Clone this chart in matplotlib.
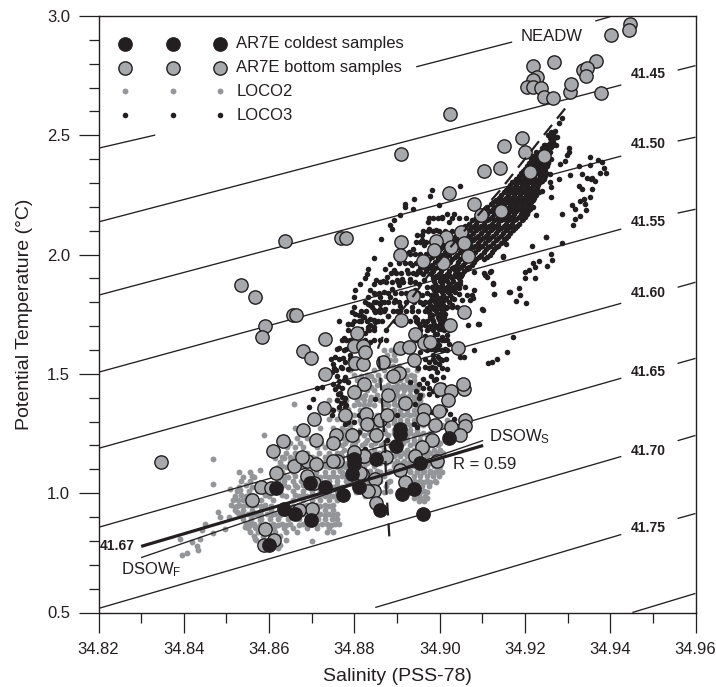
import matplotlib
matplotlib.use('Agg')
from matplotlib import pyplot as plt
from matplotlib.ticker import MultipleLocator, FormatStrFormatter

plt.rcParams['font.family'] = ['Liberation Sans', 'DejaVu Sans']
plt.rcParams['mathtext.default'] = 'regular'

dark = '#231f20'
gray_face = '#a7a9ac'
gray_dot = '#939598'

# isopycnal segments (salinity, theta), gaps are where the labels sit
iso_segments = [
    [(34.82, 2.446), (34.8333, 2.501)],
    [(34.8945, 2.787), (34.9170, 2.891)],
    [(34.9365, 2.979), (34.9400, 2.997)],
    [(34.82, 2.137), (34.9426, 2.711)],
    [(34.9558, 2.773), (34.96, 2.792)],
    [(34.82, 1.830), (34.9426, 2.413)],
    [(34.9558, 2.476), (34.96, 2.492)],
    [(34.82, 1.507), (34.9426, 2.107)],
    [(34.9558, 2.174), (34.96, 2.190)],
    [(34.82, 1.188), (34.9426, 1.796)],
    [(34.9558, 1.863), (34.96, 1.884)],
    [(34.82, 0.857), (34.9426, 1.482)],
    [(34.9558, 1.544), (34.96, 1.565)],
    [(34.82, 0.517), (34.9426, 1.154)],
    [(34.9558, 1.220), (34.96, 1.242)],
    [(34.8849, 0.521), (34.9426, 0.827)],
    [(34.9558, 0.894), (34.96, 0.915)],
    [(34.9452, 0.50), (34.96, 0.580)],
]
iso_labels = ['41.45', '41.50', '41.55', '41.60', '41.65', '41.70', '41.75']
iso_label_t = [2.757, 2.463, 2.137, 1.838, 1.507, 1.175, 0.856]

# dashed mean T-S curve
mean_s = [34.8882, 34.8875, 34.8872, 34.8863, 34.8856, 34.8872, 34.8936, 34.8994, 34.9053, 34.9142, 34.9231, 34.9295]
mean_t = [0.819, 1.016, 1.192, 1.431, 1.611, 1.679, 1.821, 1.964, 2.090, 2.270, 2.471, 2.614]

# mixing lines
thick_s = [34.8300, 34.9102]
thick_t = [0.777, 1.200]
thin_s = [34.8300, 34.9102]
thin_t = [0.730, 1.221]

coldest = [
    (34.8616, 1.023), (34.8695, 1.042), (34.8730, 1.025), (34.8773, 0.991), (34.8812, 1.025),
    (34.8794, 1.082), (34.8800, 1.145), (34.8800, 1.121), (34.8851, 1.142), (34.8898, 1.197),
    (34.8908, 1.270), (34.8908, 1.249), (34.8912, 0.998), (34.8861, 0.931), (34.8636, 0.932),
    (34.8660, 0.911), (34.8699, 0.886), (34.8600, 0.781), (34.8939, 1.016), (34.8960, 0.911),
    (34.8953, 1.128), (34.9023, 1.233),
]

bottom = [
    (34.9446, 2.966), (34.9443, 2.941), (34.9403, 2.919), (34.9219, 2.792), (34.9269, 2.807),
    (34.9367, 2.810), (34.9337, 2.773), (34.9346, 2.782), (34.9344, 2.748), (34.9229, 2.745),
    (34.9219, 2.730), (34.9205, 2.701), (34.9220, 2.703), (34.9238, 2.698), (34.9245, 2.662),
    (34.9267, 2.655), (34.9305, 2.682), (34.9307, 2.714), (34.9379, 2.678), (34.9025, 2.588),
    (34.8909, 2.421), (34.9193, 2.490), (34.9150, 2.455), (34.9199, 2.428), (34.9244, 2.414),
    (34.9103, 2.350), (34.9142, 2.361), (34.9213, 2.346), (34.9021, 2.260), (34.9081, 2.214),
    (34.9097, 2.165), (34.9145, 2.183), (34.9050, 2.093), (34.9015, 2.074), (34.8991, 2.056),
    (34.9058, 2.047), (34.8986, 2.021), (34.9027, 2.030), (34.9067, 1.996), (34.8961, 1.973),
    (34.9008, 1.965), (34.8937, 1.827), (34.8909, 2.053), (34.8908, 1.998), (34.8638, 2.057),
    (34.8769, 2.069), (34.8780, 2.069), (34.8534, 1.874), (34.8566, 1.822), (34.8655, 1.746),
    (34.8663, 1.746), (34.8591, 1.700), (34.8584, 1.655), (34.8730, 1.645), (34.8679, 1.595),
    (34.8699, 1.567), (34.8807, 1.671), (34.8798, 1.617), (34.8820, 1.617), (34.8802, 1.546),
    (34.8820, 1.543), (34.8826, 1.592), (34.8868, 1.550), (34.8730, 1.501), (34.8823, 1.459),
    (34.8798, 1.424), (34.8729, 1.357), (34.8779, 1.329), (34.8706, 1.309), (34.8679, 1.263),
    (34.8632, 1.218), (34.8610, 1.176), (34.8710, 1.221), (34.8757, 1.242), (34.8751, 1.210),
    (34.8794, 1.242), (34.8828, 1.333), (34.8829, 1.288), (34.8851, 1.242), (34.8880, 1.410),
    (34.8861, 1.305), (34.8876, 1.326), (34.8904, 1.504), (34.8891, 1.490), (34.8918, 1.378),
    (34.8908, 1.608), (34.8929, 1.613), (34.8909, 1.725), (34.8943, 1.666), (34.8964, 1.631),
    (34.8978, 1.632), (34.9056, 1.760), (34.9025, 1.704), (34.9042, 1.610), (34.8939, 1.557),
    (34.9002, 1.438), (34.9027, 1.428), (34.9056, 1.438), (34.9055, 1.459), (34.9020, 1.389),
    (34.8998, 1.344), (34.8964, 1.350), (34.8961, 1.309), (34.8990, 1.284), (34.9027, 1.277),
    (34.9060, 1.305), (34.9060, 1.280), (34.9047, 1.242), (34.8982, 1.221), (34.8959, 1.193),
    (34.8943, 1.158), (34.8994, 1.137), (34.8908, 1.098), (34.8919, 1.049), (34.8875, 1.151),
    (34.8849, 1.061), (34.8847, 1.009), (34.8851, 0.960), (34.8833, 1.009), (34.8821, 1.158),
    (34.8798, 1.151), (34.8759, 1.137), (34.8751, 1.137), (34.8689, 1.133), (34.8700, 0.932),
    (34.8818, 1.082), (34.8346, 1.132), (34.8617, 1.086), (34.8581, 1.028), (34.8605, 1.023),
    (34.8560, 0.973), (34.8659, 1.113), (34.8678, 1.151), (34.8710, 1.124), (34.8689, 1.072),
    (34.8706, 1.044), (34.8671, 0.931), (34.8591, 0.851), (34.8612, 0.802), (34.8587, 0.784),
    (34.8814, 1.086), (34.8823, 1.154), (34.8798, 1.172),
]

# LOCO3 scattered points
loco3_points = [
    (34.9353, 2.41), (34.9371, 2.396), (34.9381, 2.389), (34.9385, 2.361), (34.9377, 2.34), (34.9389, 2.343),
    (34.9353, 2.375), (34.9326, 2.371), (34.9334, 2.337), (34.9346, 2.323), (34.9357, 2.323), (34.9364, 2.309),
    (34.9355, 2.315), (34.9326, 2.287), (34.9334, 2.273), (34.9357, 2.277), (34.9352, 2.242), (34.9338, 2.235),
    (34.9328, 2.225), (34.9342, 2.214), (34.9344, 2.189), (34.9311, 2.207), (34.9317, 2.19), (34.9328, 2.161),
    (34.9318, 2.151), (34.9312, 2.126), (34.9303, 2.445), (34.9303, 2.43), (34.9299, 2.417), (34.9293, 2.393),
    (34.9282, 2.379), (34.9305, 2.333), (34.9279, 2.315), (34.926, 2.284), (34.9258, 2.305), (34.926, 2.242),
    (34.9287, 2.172), (34.9227, 2.165), (34.925, 2.074), (34.9258, 2.337), (34.924, 2.266), (34.9196, 2.175),
    (34.9173, 2.153), (34.9288, 2.049), (34.925, 2.072), (34.9217, 2.036), (34.9261, 2.004), (34.9264, 1.979),
    (34.9252, 1.952), (34.9232, 1.973), (34.922, 1.963), (34.9224, 1.948), (34.9201, 1.927), (34.9209, 1.934),
    (34.9199, 1.904), (34.9223, 1.904), (34.9185, 1.862), (34.9164, 1.843), (34.9189, 1.83), (34.9127, 1.834),
    (34.9125, 1.879), (34.9148, 1.99), (34.9117, 1.927), (34.9107, 1.913), (34.9079, 1.817), (34.9173, 1.655),
    (34.9158, 1.592), (34.9135, 1.564), (34.9123, 1.55), (34.9113, 1.547), (34.9081, 1.599), (34.9058, 1.571),
    (34.9203, 1.797), (34.9178, 1.804), (34.9099, 1.77), (34.909, 1.711), (34.9066, 1.704),
    (34.9047, 2.287), (34.8982, 2.27), (34.8978, 2.245), (34.8941, 2.231), (34.8919, 2.211), (34.8919, 2.2),
    (34.8937, 2.19), (34.8998, 2.207), (34.8908, 2.165), (34.8894, 2.147), (34.8884, 2.123), (34.8888, 2.109),
    (34.8863, 2.064), (34.8972, 2.137), (34.8947, 2.084), (34.8959, 2.081), (34.8959, 2.06), (34.8974, 2.109),
    (34.8992, 2.102), (34.8963, 2.039), (34.9006, 2.158), (34.9017, 2.172), (34.9033, 2.172), (34.9021, 2.137),
    (34.8937, 2.025), (34.8927, 2.011), (34.8916, 2.004), (34.8845, 1.987), (34.8884, 1.962), (34.8873, 1.941),
    (34.8831, 1.941), (34.883, 1.92), (34.8826, 1.903), (34.8851, 1.895), (34.8876, 1.906), (34.8867, 1.889),
    (34.8845, 1.878), (34.8814, 1.875), (34.8837, 1.85), (34.8802, 1.85), (34.88, 1.822), (34.8833, 1.822),
    (34.8849, 1.836), (34.8869, 1.843), (34.8888, 1.857), (34.8904, 1.871), (34.8912, 1.899), (34.8923, 1.934),
    (34.8935, 1.955), (34.8931, 1.899), (34.8892, 1.934), (34.89, 1.892), (34.8861, 1.822), (34.8845, 1.801),
    (34.8869, 1.801), (34.8841, 1.78), (34.8833, 1.794), (34.8884, 1.822), (34.8908, 1.783), (34.8896, 1.808),
    (34.8873, 1.773), (34.8859, 1.759), (34.8849, 1.759), (34.8845, 1.724), (34.8837, 1.707), (34.8845, 1.696),
    (34.8833, 1.689), (34.881, 1.745), (34.8822, 1.738), (34.8798, 1.78), (34.8794, 1.759), (34.8784, 1.71),
    (34.888, 1.741), (34.8908, 1.763), (34.8775, 1.647), (34.8943, 1.738), (34.8947, 1.717), (34.8966, 1.71),
    (34.8972, 1.689), (34.8986, 1.773), (34.8974, 1.759), (34.8978, 1.738), (34.8994, 1.752), (34.9002, 1.724),
    (34.8998, 1.689), (34.899, 1.668), (34.9006, 1.654), (34.9017, 1.64), (34.8986, 1.822), (34.8994, 1.85),
    (34.9002, 1.864), (34.8982, 1.864), (34.9017, 1.85), (34.9037, 1.864), (34.9048, 1.878), (34.906, 1.864),
    (34.9045, 1.836), (34.9033, 1.815), (34.9029, 1.787), (34.9041, 1.78), (34.9052, 1.808), (34.9064, 1.829),
    (34.908, 1.85), (34.9076, 1.829), (34.9072, 1.808), (34.9102, 1.769), (34.9092, 1.71), (34.9127, 1.836),
    (34.9162, 1.843), (34.9125, 1.878), (34.9111, 1.906), (34.9105, 1.923), (34.912, 1.931), (34.9149, 1.993),
    (34.9156, 2.046), (34.901, 1.892), (34.9021, 1.913), (34.9037, 1.934), (34.9048, 1.92), (34.9064, 1.941),
    (34.908, 1.927), (34.8955, 1.927), (34.8963, 1.892), (34.897, 1.864), (34.8951, 1.878), (34.8943, 1.85),
    (34.8927, 1.836), (34.8959, 1.829),
    (34.8763, 1.722), (34.8785, 1.711), (34.8775, 1.65), (34.8763, 1.608), (34.8755, 1.57), (34.8773, 1.568),
    (34.8751, 1.543), (34.8747, 1.508), (34.8759, 1.49), (34.8779, 1.487), (34.8786, 1.466), (34.874, 1.498),
    (34.8712, 1.442), (34.8724, 1.445), (34.8704, 1.396), (34.8693, 1.363), (34.8751, 1.459), (34.8755, 1.438),
    (34.8761, 1.417), (34.8771, 1.403), (34.8759, 1.389), (34.8775, 1.382), (34.8747, 1.326), (34.8763, 1.363),
    (34.8751, 1.347), (34.8779, 1.361), (34.881, 1.326), (34.8822, 1.284), (34.8794, 1.263), (34.8786, 1.298),
    (34.8798, 1.298), (34.8802, 1.753), (34.8818, 1.741), (34.8837, 1.732), (34.8849, 1.718), (34.8833, 1.697),
    (34.8845, 1.767), (34.8861, 1.774), (34.888, 1.741), (34.8947, 1.732), (34.8951, 1.711), (34.8966, 1.704),
    (34.897, 1.683), (34.9001, 1.746), (34.9009, 1.718), (34.8994, 1.669), (34.9005, 1.641), (34.9017, 1.662),
    (34.8998, 1.62), (34.9017, 1.599), (34.897, 1.599), (34.8955, 1.592), (34.899, 1.55), (34.8998, 1.543),
    (34.8982, 1.529), (34.9017, 1.522), (34.8994, 1.508), (34.8962, 1.48), (34.893, 1.468), (34.8951, 1.459),
    (34.8986, 1.473), (34.9009, 1.487), (34.8955, 1.41), (34.8974, 1.417), (34.8994, 1.41), (34.9013, 1.347),
    (34.9025, 1.333), (34.8943, 1.372), (34.8939, 1.291), (34.8947, 1.277), (34.9048, 1.57), (34.9009, 1.452),
    (34.9033, 1.312), (34.8982, 1.34), (34.9013, 1.753), (34.9029, 1.781), (34.8986, 1.781), (34.8962, 1.795),
    (34.8935, 1.781), (34.8837, 1.788), (34.8861, 1.795), (34.9017, 1.781), (34.9001, 1.795), (34.8982, 1.746),
    (34.9021, 1.627), (34.9041, 1.613), (34.899, 1.62), (34.897, 1.627), (34.8955, 1.641), (34.8841, 1.305),
    (34.8853, 1.263), (34.881, 1.256), (34.8779, 1.29), (34.8771, 1.326), (34.8818, 1.627), (34.8861, 1.641),
    (34.8837, 1.634), (34.8896, 1.599), (34.8849, 1.396), (34.89, 1.326), (34.8908, 1.277), (34.8876, 1.221),
    (34.8825, 1.186), (34.8892, 1.199), (34.89, 1.206),
    (34.9287, 2.571), (34.9279, 2.551), (34.9271, 2.52), (34.9262, 2.515), (34.9253, 2.50), (34.9275, 2.494),
    (34.9266, 2.505), (34.9267, 2.473), (34.9258, 2.468), (34.9248, 2.459), (34.924, 2.445), (34.9252, 2.447),
    (34.9262, 2.452), (34.9272, 2.46),
    (34.8762, 1.45), (34.8772, 1.44), (34.8766, 1.42), (34.8778, 1.40), (34.8768, 1.38), (34.8781, 1.37),
    (34.877, 1.34), (34.8778, 1.33), (34.8772, 1.31), (34.8782, 1.30), (34.8764, 1.47), (34.8775, 1.475),
    (34.8758, 1.515), (34.8768, 1.53), (34.8779, 1.55), (34.8785, 1.52), (34.879, 1.58), (34.8775, 1.60),
    (34.879, 1.64), (34.88, 1.68), (34.8815, 1.69), (34.8825, 1.67), (34.881, 1.72), (34.8795, 1.71),
    (34.8955, 1.70), (34.8965, 1.66), (34.8975, 1.65), (34.8985, 1.64), (34.8995, 1.70), (34.9003, 1.69),
    (34.9012, 1.70), (34.8978, 1.70), (34.8985, 1.72), (34.899, 1.60), (34.9005, 1.60), (34.8985, 1.58),
    (34.8995, 1.57), (34.9005, 1.56), (34.8975, 1.55), (34.8965, 1.53), (34.898, 1.49), (34.8992, 1.48),
    (34.897, 1.46), (34.8975, 1.44), (34.8985, 1.43), (34.90, 1.44), (34.896, 1.44), (34.8945, 1.43),
    (34.8952, 1.40),
]

# LOCO3 dense trunk, one row of salinities per theta
trunk_t = [2.428, 2.402, 2.384, 2.358, 2.342, 2.318, 2.304, 2.278, 2.263, 2.238, 2.222, 2.198, 2.183, 2.157, 2.143,
           2.118, 2.103, 2.077, 2.062, 2.038, 2.023, 1.997, 1.982, 1.958, 1.942, 1.918, 1.902, 1.878, 1.862, 1.842,
           1.818, 1.803, 1.778, 1.762, 1.738, 1.722, 1.698]
trunk_s = [
    [34.9225, 34.9235, 34.9247, 34.9258],
    [34.9215, 34.9226, 34.9238, 34.9250, 34.9260],
    [34.9210, 34.9222, 34.9232, 34.9244, 34.9255],
    [34.9200, 34.9212, 34.9225, 34.9236, 34.9248],
    [34.9190, 34.9204, 34.9216, 34.9228, 34.9240, 34.9250],
    [34.9180, 34.9193, 34.9207, 34.9220, 34.9233, 34.9244],
    [34.9170, 34.9183, 34.9197, 34.9210, 34.9224, 34.9236],
    [34.9160, 34.9175, 34.9188, 34.9202, 34.9215, 34.9228],
    [34.9150, 34.9165, 34.9178, 34.9192, 34.9205, 34.9218, 34.9232],
    [34.9140, 34.9155, 34.9170, 34.9184, 34.9198, 34.9210, 34.9222],
    [34.9125, 34.9142, 34.9158, 34.9172, 34.9186, 34.9200, 34.9215],
    [34.9112, 34.9130, 34.9148, 34.9162, 34.9176, 34.9190, 34.9205, 34.9218],
    [34.9100, 34.9118, 34.9135, 34.9150, 34.9166, 34.9180, 34.9195, 34.9208],
    [34.9088, 34.9105, 34.9122, 34.9140, 34.9155, 34.9170, 34.9186, 34.9200],
    [34.9075, 34.9092, 34.9110, 34.9128, 34.9145, 34.9160, 34.9175, 34.9192],
    [34.9060, 34.9080, 34.9098, 34.9115, 34.9132, 34.9150, 34.9165, 34.9182],
    [34.9050, 34.9068, 34.9085, 34.9103, 34.9120, 34.9138, 34.9155, 34.9172],
    [34.9038, 34.9055, 34.9072, 34.9090, 34.9108, 34.9125, 34.9143, 34.9160],
    [34.9025, 34.9042, 34.9060, 34.9078, 34.9095, 34.9113, 34.9132, 34.9150],
    [34.9012, 34.9030, 34.9048, 34.9066, 34.9084, 34.9100, 34.9118, 34.9138],
    [34.9000, 34.9018, 34.9035, 34.9054, 34.9072, 34.9090, 34.9108, 34.9128],
    [34.8990, 34.9005, 34.9022, 34.9040, 34.9060, 34.9078, 34.9098, 34.9118],
    [34.8975, 34.8995, 34.9010, 34.9030, 34.9048, 34.9066, 34.9086, 34.9105],
    [34.8965, 34.8982, 34.9000, 34.9018, 34.9040, 34.9055, 34.9075],
    [34.8955, 34.8972, 34.8990, 34.9008, 34.9028, 34.9045, 34.9065],
    [34.8945, 34.8962, 34.8980, 34.8998, 34.9018, 34.9035, 34.9052],
    [34.8985, 34.9000, 34.9015, 34.9030, 34.9045],
    [34.8990, 34.9005, 34.9025, 34.9040],
    [34.8985, 34.8998, 34.9012, 34.9028, 34.9045],
    [34.8990, 34.9005, 34.9020, 34.9035],
    [34.8985, 34.9000, 34.9015, 34.9030],
    [34.8975, 34.8990, 34.9005, 34.9022],
    [34.8970, 34.8985, 34.9000, 34.9015],
    [34.8975, 34.8992, 34.9008],
    [34.8980, 34.8995, 34.9010],
    [34.8985, 34.9000],
    [34.8990, 34.9005],
]
trunk2_t = [2.49, 2.46, 2.415, 2.392, 2.37, 2.35, 2.33, 2.31, 2.29, 2.27, 2.25, 2.23, 2.21, 2.19, 2.17, 2.15, 2.13,
            2.11, 2.09, 2.07, 2.05, 2.03, 2.01, 1.99, 1.97, 1.95, 1.93, 1.91, 1.89, 1.87, 1.85, 1.83, 1.81, 1.79,
            1.77, 1.75, 1.73, 1.71]
trunk2_s = [
    [34.9258, 34.9268],
    [34.9245, 34.9255, 34.9265],
    [34.9220, 34.9230, 34.9241, 34.9252],
    [34.9220, 34.9232, 34.9244, 34.9255],
    [34.9205, 34.9217, 34.9228, 34.9240, 34.9252],
    [34.9195, 34.9208, 34.9220, 34.9232, 34.9245],
    [34.9185, 34.9198, 34.9210, 34.9222, 34.9236, 34.9247],
    [34.9176, 34.9188, 34.9202, 34.9215, 34.9228, 34.9240],
    [34.9165, 34.9178, 34.9192, 34.9205, 34.9218, 34.9230],
    [34.9155, 34.9170, 34.9183, 34.9197, 34.9210, 34.9224],
    [34.9145, 34.9160, 34.9175, 34.9188, 34.9202, 34.9214, 34.9227],
    [34.9132, 34.9148, 34.9163, 34.9178, 34.9192, 34.9205, 34.9218],
    [34.9120, 34.9136, 34.9152, 34.9167, 34.9181, 34.9195, 34.9210],
    [34.9106, 34.9124, 34.9141, 34.9156, 34.9171, 34.9185, 34.9200, 34.9213],
    [34.9094, 34.9112, 34.9128, 34.9145, 34.9160, 34.9175, 34.9190, 34.9204],
    [34.9082, 34.9098, 34.9116, 34.9134, 34.9150, 34.9165, 34.9180, 34.9196],
    [34.9068, 34.9086, 34.9104, 34.9122, 34.9138, 34.9155, 34.9170, 34.9187],
    [34.9055, 34.9074, 34.9092, 34.9109, 34.9126, 34.9144, 34.9160, 34.9177],
    [34.9044, 34.9062, 34.9079, 34.9097, 34.9114, 34.9132, 34.9149, 34.9166],
    [34.9032, 34.9049, 34.9066, 34.9084, 34.9102, 34.9119, 34.9138, 34.9155],
    [34.9018, 34.9036, 34.9054, 34.9072, 34.9090, 34.9107, 34.9125, 34.9144],
    [34.9006, 34.9024, 34.9042, 34.9060, 34.9078, 34.9095, 34.9113, 34.9133],
    [34.8995, 34.9012, 34.9029, 34.9047, 34.9066, 34.9084, 34.9103, 34.9123],
    [34.8983, 34.9000, 34.9016, 34.9035, 34.9054, 34.9072, 34.9092, 34.9111],
    [34.8970, 34.8988, 34.9005, 34.9024, 34.9044, 34.9060, 34.9080],
    [34.8960, 34.8977, 34.8995, 34.9013, 34.9034, 34.9050, 34.9070],
    [34.8950, 34.8967, 34.8985, 34.9003, 34.9023, 34.9040, 34.9058],
    [34.8992, 34.9007, 34.9022, 34.9038, 34.9050],
    [34.8987, 34.9002, 34.9018, 34.9032, 34.9047],
    [34.8992, 34.9006, 34.9020, 34.9036],
    [34.8987, 34.9000, 34.9015, 34.9030],
    [34.8980, 34.8992, 34.9008, 34.9025],
    [34.8980, 34.8995, 34.9010],
    [34.8978, 34.8992, 34.9007],
    [34.8972, 34.8988, 34.9003],
    [34.8978, 34.8995, 34.9002],
    [34.8982, 34.8998],
    [34.8987, 34.9002],
]
# LOCO3 left branch and the warmer part of the cloud
branch_t = [2.152, 2.101, 2.053, 2.004, 1.963, 1.921, 1.884, 1.838, 1.803, 1.762, 1.723, 1.682, 1.643, 1.604, 1.562, 1.523]
branch_s = [
    [34.8975, 34.8985, 34.8995, 34.9005, 34.9030, 34.9045, 34.9062],
    [34.8960, 34.8972, 34.8985, 34.8998, 34.9012, 34.9028],
    [34.8945, 34.8955, 34.8968, 34.8980, 34.8994, 34.9005],
    [34.8930, 34.8942, 34.8955, 34.8968, 34.8980],
    [34.8905, 34.8918, 34.8930, 34.8945, 34.8955],
    [34.8885, 34.8898, 34.8910, 34.8925, 34.8938],
    [34.8860, 34.8875, 34.8888, 34.8902, 34.8915, 34.8930, 34.8942],
    [34.8845, 34.8858, 34.8880, 34.8895, 34.8910, 34.8922, 34.8935, 34.8950, 34.8970],
    [34.8825, 34.8850, 34.8862, 34.8880, 34.8892, 34.8905, 34.8920, 34.8940, 34.8955, 34.8965],
    [34.8815, 34.8828, 34.8855, 34.8870, 34.8890, 34.8900, 34.8920, 34.8935, 34.8950, 34.8965],
    [34.8800, 34.8815, 34.8830, 34.8855, 34.8865, 34.8895, 34.8910, 34.8930, 34.8945, 34.8960, 34.8970, 34.9015, 34.9025],
    [34.8785, 34.8810, 34.8835, 34.8845, 34.8875, 34.8940, 34.8955, 34.8985, 34.9010, 34.9022],
    [34.8770, 34.8780, 34.8800, 34.8825, 34.8845, 34.8875, 34.8945, 34.8965, 34.8995, 34.9010],
    [34.8760, 34.8780, 34.8800, 34.8810, 34.8965, 34.8980, 34.8995, 34.9012],
    [34.8745, 34.8765, 34.8790, 34.8965, 34.8985, 34.9002, 34.9015],
    [34.8752, 34.8770, 34.8795, 34.8950, 34.8975, 34.8990, 34.9005],
]

# LOCO2 scattered points at the cold, fresh end
loco2_points = [
    (34.8395, 0.739), (34.8408, 0.750), (34.8430, 0.777), (34.8433, 0.763), (34.8391, 0.806), (34.8419, 0.795),
    (34.8438, 0.809), (34.8450, 0.872), (34.8442, 0.844), (34.8468, 0.835), (34.8481, 0.921), (34.8485, 0.900),
    (34.8497, 0.851), (34.8509, 1.019), (34.8469, 1.145), (34.8469, 1.037), (34.8589, 1.242), (34.8579, 1.096),
    (34.8659, 1.375), (34.8520, 0.941), (34.8528, 0.970), (34.8532, 1.012), (34.8548, 0.956), (34.8524, 0.921),
    (34.8505, 0.900), (34.8544, 0.858), (34.8556, 0.879), (34.8567, 0.858), (34.8579, 0.886), (34.8567, 0.809),
    (34.8626, 0.781), (34.8701, 0.801), (34.8620, 0.772), (34.8640, 0.803), (34.8570, 0.802),
]

# LOCO2 cloud, one row of salinities per theta
cloud_t = [1.600, 1.557, 1.515, 1.473, 1.431, 1.389, 1.347, 1.305, 1.263, 1.221, 1.179, 1.137, 1.095, 1.053, 1.011,
           0.969, 1.391, 1.352, 1.311, 1.272, 1.232, 1.193, 1.151, 1.109, 1.067, 1.028, 0.988, 0.951, 0.911, 0.872, 0.838]
cloud_s = [
    [34.8869, 34.8885],
    [34.8798, 34.8884, 34.8896],
    [34.8790, 34.8845, 34.8869, 34.8892, 34.8908, 34.8923, 34.8947],
    [34.8806, 34.8845, 34.8861, 34.8892, 34.8908, 34.8923, 34.8939],
    [34.8814, 34.8830, 34.8845, 34.8869, 34.8900, 34.8916, 34.8931, 34.8947],
    [34.8806, 34.8822, 34.8837, 34.8861, 34.8892, 34.8908, 34.8923, 34.8939, 34.8955],
    [34.8814, 34.8830, 34.8869, 34.8892, 34.8908, 34.8923, 34.8939, 34.8955],
    [34.8790, 34.8814, 34.8837, 34.8869, 34.8892, 34.8908, 34.8923, 34.8939, 34.8955, 34.9017],
    [34.8783, 34.8814, 34.8845, 34.8869, 34.8892, 34.8916, 34.8931, 34.8947],
    [34.8783, 34.8806, 34.8830, 34.8853, 34.8876, 34.8900, 34.8923, 34.8939, 34.8955, 34.8970, 34.8994],
    [34.8775, 34.8798, 34.8822, 34.8845, 34.8869, 34.8892, 34.8908, 34.8923, 34.8939, 34.8955, 34.8970, 34.8986, 34.9002],
    [34.8767, 34.8790, 34.8814, 34.8837, 34.8884, 34.8900, 34.8916, 34.8931, 34.8955, 34.8970, 34.8986, 34.9002],
    [34.8767, 34.8814, 34.8837, 34.8853, 34.8884, 34.8931, 34.8947, 34.8963, 34.8978, 34.8994, 34.9002],
    [34.8790, 34.8814, 34.8837, 34.8861, 34.8884, 34.8939, 34.8955, 34.8970, 34.8990],
    [34.8814, 34.8837, 34.8884, 34.8947, 34.8963],
    [34.8951, 34.8963],
    [34.8740, 34.8760, 34.8780],
    [34.8720, 34.8745, 34.8765, 34.8785],
    [34.8715, 34.8740, 34.8760, 34.8780],
    [34.8660, 34.8690, 34.8720, 34.8750, 34.8770],
    [34.8640, 34.8665, 34.8690, 34.8715, 34.8745, 34.8770],
    [34.8642, 34.8660, 34.8680, 34.8712, 34.8730],
    [34.8630, 34.8650, 34.8668, 34.8700, 34.8730, 34.8750, 34.8770],
    [34.8620, 34.8640, 34.8665, 34.8700, 34.8720, 34.8740, 34.8760, 34.8780, 34.8800],
    [34.8540, 34.8565, 34.8625, 34.8645, 34.8680, 34.8700, 34.8720, 34.8740, 34.8760, 34.8780, 34.8800],
    [34.8530, 34.8560, 34.8625, 34.8645, 34.8665, 34.8690, 34.8710, 34.8730, 34.8750, 34.8770],
    [34.8520, 34.8545, 34.8565, 34.8600, 34.8640, 34.8670, 34.8690, 34.8710, 34.8730, 34.8750, 34.8770],
    [34.8510, 34.8530, 34.8550, 34.8570, 34.8590, 34.8640, 34.8670, 34.8690, 34.8710, 34.8730, 34.8750],
    [34.8530, 34.8550, 34.8570, 34.8595, 34.8615, 34.8640, 34.8660, 34.8680, 34.8700, 34.8720, 34.8740, 34.8760],
    [34.8545, 34.8565, 34.8590, 34.8610, 34.8630, 34.8650, 34.8680, 34.8700, 34.8725, 34.8735, 34.8755, 34.8765],
    [34.8555, 34.8575, 34.8595, 34.8615, 34.8640, 34.8665, 34.8735, 34.8750],
]
cloud2_t = [1.58, 1.535, 1.495, 1.452, 1.41, 1.368, 1.326, 1.284, 1.242, 1.20, 1.158, 1.116, 1.074, 1.032, 0.99,
            1.21, 1.17, 1.13, 1.09, 1.05, 1.008, 0.97, 0.93, 0.89, 0.855, 0.82]
cloud2_s = [
    [34.8877, 34.8892],
    [34.8795, 34.8860, 34.8880, 34.8890, 34.8905],
    [34.8798, 34.8830, 34.8855, 34.8880, 34.8900, 34.8915, 34.8932],
    [34.8810, 34.8825, 34.8853, 34.8880, 34.8900, 34.8915, 34.8931, 34.8945],
    [34.8790, 34.8810, 34.8825, 34.8852, 34.8884, 34.8900, 34.8915, 34.8931, 34.8947, 34.8958],
    [34.8798, 34.8822, 34.8845, 34.8880, 34.8900, 34.8915, 34.8931, 34.8947, 34.8962],
    [34.8800, 34.8825, 34.8853, 34.8880, 34.8900, 34.8915, 34.8931, 34.8947, 34.8962],
    [34.8790, 34.8825, 34.8853, 34.8880, 34.8900, 34.8915, 34.8931, 34.8947, 34.8962, 34.9005],
    [34.8775, 34.8798, 34.8822, 34.8845, 34.8880, 34.8900, 34.8923, 34.8939, 34.8955, 34.8970, 34.8985],
    [34.8770, 34.8795, 34.8818, 34.8840, 34.8862, 34.8884, 34.8908, 34.8931, 34.8947, 34.8963, 34.8978, 34.8995],
    [34.8785, 34.8806, 34.8830, 34.8853, 34.8876, 34.8892, 34.8908, 34.8923, 34.8939, 34.8955, 34.8970, 34.8986, 34.9000],
    [34.8775, 34.8822, 34.8845, 34.8892, 34.8908, 34.8923, 34.8939, 34.8955, 34.8970, 34.8986, 34.9000],
    [34.8800, 34.8825, 34.8850, 34.8870, 34.8940, 34.8955, 34.8970, 34.8984, 34.8998],
    [34.8800, 34.8825, 34.8850, 34.8875, 34.8942, 34.8958, 34.8975],
    [34.8825, 34.8850, 34.8952, 34.8965],
    [34.8650, 34.8672, 34.8700, 34.8722, 34.8748],
    [34.8640, 34.8660, 34.8688, 34.8718, 34.8740, 34.8760],
    [34.8625, 34.8650, 34.8680, 34.8710, 34.8730, 34.8750, 34.8770, 34.8790],
    [34.8530, 34.8555, 34.8630, 34.8655, 34.8690, 34.8710, 34.8730, 34.8750, 34.8770, 34.8790],
    [34.8535, 34.8555, 34.8620, 34.8635, 34.8655, 34.8675, 34.8700, 34.8720, 34.8740, 34.8760, 34.8780],
    [34.8525, 34.8552, 34.8575, 34.8625, 34.8655, 34.8680, 34.8700, 34.8720, 34.8740, 34.8760],
    [34.8515, 34.8538, 34.8558, 34.8580, 34.8610, 34.8655, 34.8680, 34.8700, 34.8720, 34.8740, 34.8760],
    [34.8520, 34.8540, 34.8560, 34.8582, 34.8605, 34.8630, 34.8650, 34.8670, 34.8690, 34.8710, 34.8730, 34.8750],
    [34.8538, 34.8558, 34.8580, 34.8602, 34.8622, 34.8645, 34.8670, 34.8690, 34.8715, 34.8730, 34.8748, 34.8760],
    [34.8550, 34.8570, 34.8590, 34.8612, 34.8635, 34.8655, 34.8690, 34.8712, 34.8740],
    [34.8565, 34.8585, 34.8605, 34.8625],
]
cloud3_t = [1.49, 1.445, 1.405, 1.372, 1.333, 1.295, 1.253, 1.212, 1.168, 1.126, 1.087, 1.046, 1.004, 0.978,
            1.146, 1.112, 1.072, 1.034, 0.994, 0.948, 0.908, 0.868]
cloud3_s = [
    [34.8815, 34.8840, 34.8875, 34.8885, 34.8905, 34.8920, 34.8940],
    [34.8800, 34.8838, 34.8870, 34.8890, 34.8908, 34.8923, 34.8938, 34.8952],
    [34.8815, 34.8840, 34.8870, 34.8892, 34.8908, 34.8923, 34.8939, 34.8953],
    [34.8812, 34.8835, 34.8870, 34.8892, 34.8908, 34.8923, 34.8939, 34.8955],
    [34.8790, 34.8815, 34.8840, 34.8870, 34.8892, 34.8908, 34.8923, 34.8939, 34.8955],
    [34.8782, 34.8815, 34.8840, 34.8870, 34.8892, 34.8908, 34.8923, 34.8939, 34.8955, 34.8968],
    [34.8770, 34.8788, 34.8810, 34.8835, 34.8860, 34.8872, 34.8892, 34.8908, 34.8931, 34.8947, 34.8962, 34.8978],
    [34.8778, 34.8802, 34.8825, 34.8848, 34.8870, 34.8892, 34.8915, 34.8939, 34.8955, 34.8970, 34.8986, 34.9000],
    [34.8768, 34.8790, 34.8812, 34.8835, 34.8858, 34.8880, 34.8900, 34.8916, 34.8931, 34.8947, 34.8963, 34.8978, 34.8994, 34.9008],
    [34.8760, 34.8782, 34.8806, 34.8830, 34.8860, 34.8875, 34.8895, 34.8912, 34.8927, 34.8945, 34.8963, 34.8978, 34.8994],
    [34.8810, 34.8830, 34.8860, 34.8880, 34.8900, 34.8916, 34.8931, 34.8947, 34.8962, 34.8978, 34.8990, 34.9005],
    [34.8808, 34.8830, 34.8855, 34.8880, 34.8947, 34.8963, 34.8978, 34.8992],
    [34.8805, 34.8830, 34.8845, 34.8870, 34.8938, 34.8955, 34.8970],
    [34.8940, 34.8955, 34.8970],
    [34.8615, 34.8635, 34.8660, 34.8690, 34.8710, 34.8740, 34.8765],
    [34.8630, 34.8655, 34.8680, 34.8710, 34.8730, 34.8750, 34.8770, 34.8790],
    [34.8560, 34.8610, 34.8635, 34.8660, 34.8690, 34.8710, 34.8730, 34.8750, 34.8770],
    [34.8545, 34.8615, 34.8635, 34.8660, 34.8680, 34.8700, 34.8720, 34.8740, 34.8760],
    [34.8535, 34.8555, 34.8590, 34.8630, 34.8660, 34.8680, 34.8700, 34.8720, 34.8740, 34.8760],
    [34.8525, 34.8540, 34.8560, 34.8580, 34.8605, 34.8630, 34.8655, 34.8680, 34.8700, 34.8720, 34.8740],
    [34.8540, 34.8560, 34.8580, 34.8605, 34.8625, 34.8650, 34.8670, 34.8690, 34.8710, 34.8730, 34.8750],
    [34.8555, 34.8578, 34.8600, 34.8620, 34.8640, 34.8670, 34.8690, 34.8712, 34.8745],
]

legend_s = [34.8261, 34.8374, 34.8486]
legend_t = [2.884, 2.784, 2.685, 2.585]
legend_names = ['AR7E coldest samples', 'AR7E bottom samples', 'LOCO2', 'LOCO3']

loco3 = list(loco3_points)
for t, row in zip(trunk_t + trunk2_t + branch_t, trunk_s + trunk2_s + branch_s):
    loco3 += [(s, t) for s in row]
loco2 = list(loco2_points)
for t, row in zip(cloud_t + cloud2_t + cloud3_t, cloud_s + cloud2_s + cloud3_s):
    loco2 += [(s, t) for s in row]

fig = plt.figure(figsize=(7.16, 6.87), dpi=100)
ax = fig.add_axes([98.5 / 716, 1 - 612.5 / 687, 597 / 716, 596.5 / 687])

big = dict(s=92, linewidths=1.0, edgecolors=dark)
s2 = dict(s=18, color=gray_dot, linewidths=0)
s3 = dict(s=16, color=dark, linewidths=0)

for seg in iso_segments:
    ax.plot([seg[0][0], seg[1][0]], [seg[0][1], seg[1][1]], color=dark, lw=0.95, zorder=2, solid_capstyle='butt')

ax.scatter(*zip(*loco2), zorder=1, **s2)
ax.scatter(*zip(*loco3), zorder=3, **s3)
ax.scatter(*zip(*bottom), facecolors=gray_face, zorder=4, **big)
ax.scatter(*zip(*coldest), facecolors=dark, zorder=5, **big)

ax.plot(mean_s, mean_t, color=dark, lw=1.6, dashes=(5.8, 3.6), zorder=4.5, dash_capstyle='butt')
ax.plot(thick_s, thick_t, color=dark, lw=2.3, zorder=6, solid_capstyle='butt')
ax.plot(thin_s, thin_t, color=dark, lw=0.95, zorder=6, solid_capstyle='butt')

# legend drawn by hand, three symbols per row like the original
for s in legend_s:
    ax.scatter(s, legend_t[0], facecolors=dark, zorder=5, **big)
    ax.scatter(s, legend_t[1], facecolors=gray_face, zorder=5, **big)
    ax.scatter(s, legend_t[2], zorder=5, **s2)
    ax.scatter(s, legend_t[3], zorder=5, **s3)
for t, name in zip(legend_t, legend_names):
    ax.text(34.8523, t, name, fontsize=12, color=dark, va='center', ha='left')

for t, name in zip(iso_label_t, iso_labels):
    ax.text(34.9449, t, name, fontsize=10, fontweight='bold', color=dark, va='center', ha='left')

ax.text(34.8286, 0.777, '41.67', fontsize=10, fontweight='bold', color=dark, va='center', ha='right')
ax.text(34.8253, 0.68, 'DSOW$_{F}$', fontsize=12, color=dark, va='center', ha='left')
ax.text(34.9116, 1.238, 'DSOW$_{S}$', fontsize=12, color=dark, va='center', ha='left')
ax.text(34.9032, 1.12, 'R = 0.59', fontsize=12, color=dark, va='center', ha='left')
ax.text(34.9191, 2.912, 'NEADW', fontsize=12, color=dark, va='center', ha='left')

ax.set_xlim(34.82, 34.96)
ax.set_ylim(0.5, 3.0)
ax.xaxis.set_major_locator(MultipleLocator(0.02))
ax.xaxis.set_minor_locator(MultipleLocator(0.01))
ax.yaxis.set_major_locator(MultipleLocator(0.5))
ax.yaxis.set_minor_locator(MultipleLocator(0.1))
ax.xaxis.set_major_formatter(FormatStrFormatter('%.2f'))
ax.yaxis.set_major_formatter(FormatStrFormatter('%.1f'))
ax.tick_params(which='major', length=14.4, width=0.9, color=dark, labelcolor=dark, labelsize=12)
ax.tick_params(axis='y', which='major', pad=6)
ax.tick_params(axis='x', which='major', pad=6.5)
ax.tick_params(which='minor', length=7.2, width=0.9, color=dark)
for side in ax.spines.values():
    side.set_linewidth(1.0)
    side.set_color(dark)

ax.set_xlabel('Salinity (PSS-78)', fontsize=14, color=dark, labelpad=8)
ax.set_ylabel('Potential Temperature (°C)', fontsize=14, color=dark, labelpad=10)

fig.savefig('out.png', dpi=100)
